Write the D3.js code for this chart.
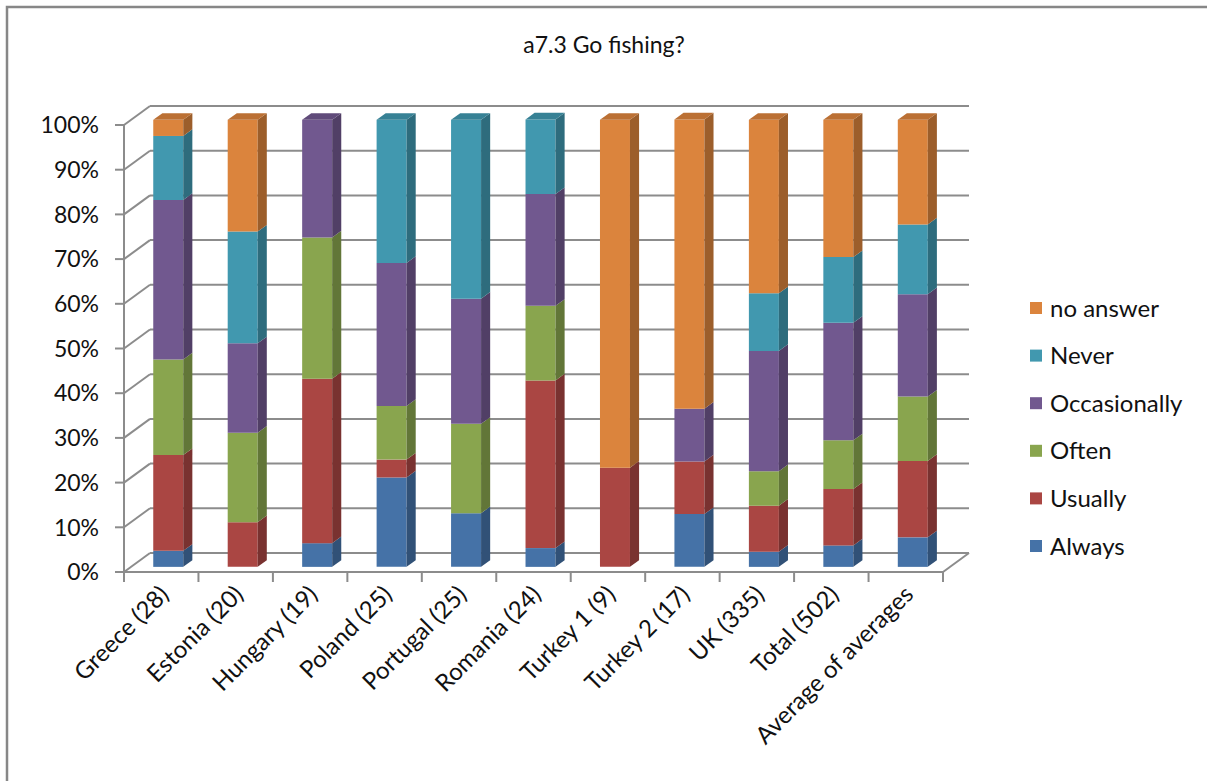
<!DOCTYPE html>
<html>
<head>
<meta charset="utf-8">
<script src="https://cdn.jsdelivr.net/npm/d3@7"></script>
<style>
  html, body { margin: 0; padding: 0; background: #fff; }
  svg { display: block; }
  text { font-family: Lato, "Noto Sans", sans-serif; fill: #111; }
</style>
</head>
<body>
<svg id="chart" width="1207" height="781"></svg>
<script>
// Survey answers per country, percent of respondents (stacked to 100%)
const categories = ["Greece (28)", "Estonia (20)", "Hungary (19)", "Poland (25)", "Portugal (25)",
  "Romania (24)", "Turkey 1 (9)", "Turkey 2 (17)", "UK (335)", "Total (502)", "Average of averages"];

const always       = [3.6, 0,    5.3,  20, 12, 4.2,  0,    11.8, 3.4,  4.8,  6.6];
const usually      = [21.4, 10,  36.8, 4,  0,  37.5, 22.2, 11.8, 10.3, 12.6, 17.1];
const often        = [21.4, 20,  31.6, 12, 20, 16.7, 0,    0,    7.7,  10.9, 14.4];
const occasionally = [35.7, 20,  26.3, 32, 28, 25,   0,    11.8, 26.9, 26.3, 22.9];
const never        = [14.3, 25,  0,    32, 40, 16.7, 0,    0,    12.9, 14.7, 15.6];
const noAnswer     = [3.6, 25,   0,    0,  0,  0,    77.8, 64.7, 38.8, 30.7, 23.4];

const seriesNames  = ["Always", "Usually", "Often", "Occasionally", "Never", "no answer"];
const seriesValues = [always, usually, often, occasionally, never, noAnswer];
const seriesColors = ["#4572A7", "#AA4643", "#89A54E", "#71588F", "#4198AF", "#DB843D"];

const yTicks = [0, 10, 20, 30, 40, 50, 60, 70, 80, 90, 100];
const yTickLabels = yTicks.map(d => d + "%");

const title = "a7.3 Go fishing?";

// ---- layout ----
const svg = d3.select("#chart");
const DX = 26, DY = 19;             // oblique offset from front to back of the plot box

const x = d3.scaleBand().domain(categories).range([124, 943]).paddingInner(0).paddingOuter(0);
const y = d3.scaleLinear().domain([0, 100]).range([572, 125]);

// chart frame
svg.append("rect")
  .attr("x", 7).attr("y", 7).attr("width", 1260).attr("height", 820)
  .attr("fill", "#fff").attr("stroke", "#878787").attr("stroke-width", 2.5);

// title
svg.append("text")
  .attr("x", 604).attr("y", 53)
  .attr("text-anchor", "middle")
  .style("font-size", "23px")
  .text(title);

const grid = svg.append("g")
  .attr("fill", "none").attr("stroke", "#8c8c8c").attr("stroke-width", 2);

// back wall gridlines and side wall gridlines
yTicks.forEach(t => {
  const yf = y(t);
  grid.append("line")
    .attr("x1", x.range()[0] + DX).attr("x2", x.range()[1] + DX)
    .attr("y1", yf - DY).attr("y2", yf - DY);
  grid.append("line")
    .attr("x1", x.range()[0]).attr("x2", x.range()[0] + DX)
    .attr("y1", yf).attr("y2", yf - DY);
});

// floor front edge and right edge
grid.append("line")
  .attr("x1", x.range()[0]).attr("x2", x.range()[1])
  .attr("y1", y(0)).attr("y2", y(0));
grid.append("line")
  .attr("x1", x.range()[1]).attr("x2", x.range()[1] + DX)
  .attr("y1", y(0)).attr("y2", y(0) - DY);

// value axis
grid.append("line")
  .attr("x1", x.range()[0]).attr("x2", x.range()[0])
  .attr("y1", y(100)).attr("y2", y(0) + 10);

const yAxis = svg.append("g");
yTicks.forEach((t, i) => {
  yAxis.append("line")
    .attr("x1", x.range()[0] - 9).attr("x2", x.range()[0])
    .attr("y1", y(t)).attr("y2", y(t))
    .attr("stroke", "#8c8c8c").attr("stroke-width", 2);
  yAxis.append("text")
    .attr("x", 99).attr("y", y(t))
    .attr("dy", "0.36em")
    .attr("text-anchor", "end")
    .style("font-size", "23px")
    .text(yTickLabels[i]);
});

// category axis ticks
const edges = categories.map(c => x(c)).concat([x.range()[1]]);
svg.append("g").selectAll("line").data(edges).join("line")
  .attr("x1", d => d).attr("x2", d => d)
  .attr("y1", y(0)).attr("y2", y(0) + 10)
  .attr("stroke", "#8c8c8c").attr("stroke-width", 2);

// category labels
svg.append("g").selectAll("text").data(categories).join("text")
  .attr("text-anchor", "end")
  .attr("transform", c => `translate(${x(c) + x.bandwidth() / 2 + 9},${y(0) + 24}) rotate(-45)`)
  .style("font-size", "24px")
  .text(c => c);

// ---- stacked 3D columns ----
const barW = 30;
const f0 = 0.27, fd = 0.35;                // front-face depth and column depth (fractions)
const ox = f0 * DX, oy = f0 * DY;
const ddx = fd * DX, ddy = fd * DY;

const bars = svg.append("g");
categories.forEach((c, ci) => {
  const x0 = x(c) + (x.bandwidth() - barW) / 2 + ox;
  const x1 = x0 + barW;
  let cum = 0;
  let lastTop = null;
  seriesValues.forEach((vals, si) => {
    const v = vals[ci];
    if (v <= 0) return;
    const yb = y(cum) - oy;
    const yt = y(cum + v) - oy;
    cum += v;
    const col = d3.color(seriesColors[si]);
    bars.append("polygon")
      .attr("points", [[x0, yt], [x1, yt], [x1, yb], [x0, yb]].join(" "))
      .attr("fill", col.formatHex());
    bars.append("polygon")
      .attr("points", [[x1, yt], [x1 + ddx, yt - ddy], [x1 + ddx, yb - ddy], [x1, yb]].join(" "))
      .attr("fill", col.darker(0.95).formatHex());
    lastTop = { yt, col };
  });
  if (lastTop) {
    const { yt, col } = lastTop;
    bars.append("polygon")
      .attr("points", [[x0, yt], [x1, yt], [x1 + ddx, yt - ddy], [x0 + ddx, yt - ddy]].join(" "))
      .attr("fill", col.darker(0.45).formatHex());
  }
});

// ---- legend ----
const legend = svg.append("g");
const legendItems = seriesNames.map((n, i) => ({ n, c: seriesColors[i] })).reverse();
legendItems.forEach((d, i) => {
  const ly = 308 + i * 47.6;
  legend.append("rect")
    .attr("x", 1030).attr("y", ly - 6).attr("width", 12).attr("height", 12)
    .attr("fill", d.c);
  legend.append("text")
    .attr("x", 1050).attr("y", ly)
    .attr("dy", "0.36em")
    .style("font-size", "24px")
    .text(d.n);
});
</script>
</body>
</html>
